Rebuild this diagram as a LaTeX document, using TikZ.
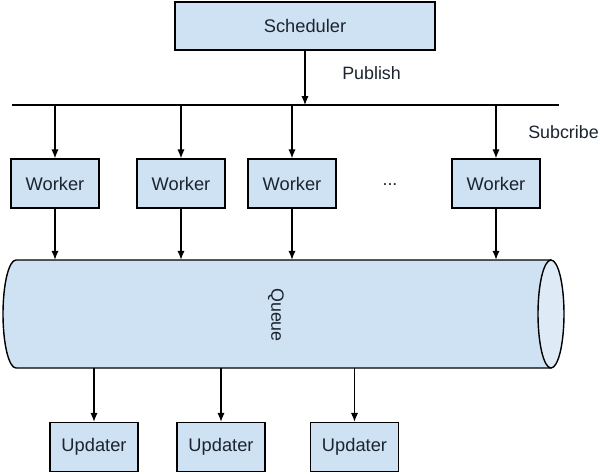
\documentclass[tikz,border=0pt]{standalone}
\usepackage{fontspec}
\setmainfont{Liberation Sans}
\usepackage{xcolor}
\usetikzlibrary{arrows.meta}
\usetikzlibrary{positioning}
\definecolor{boxfill}{HTML}{CFE2F3}
\definecolor{endfill}{HTML}{DEEAF6}
\definecolor{inkc}{HTML}{1C2430}

\begin{document}
\begin{tikzpicture}[
		box/.style={draw=black, line width=1pt, fill=boxfill, text=inkc, minimum width=2.2cm, minimum height=1.225cm, inner sep=0pt, font=\fontsize{13}{15}\selectfont},
		link/.style={line width=0.9pt, -{Latex[length=2.2mm, width=1.8mm]}},
		tag/.style={text=inkc, inner sep=0pt, font=\fontsize{12.7}{15}\selectfont}
	]
				\useasboundingbox[fill=white] (0,0) rectangle (15,11.825);

				\node[box, minimum width=6.5cm, minimum height=1.2cm] (sched) at (7.625,11.175) {Scheduler};

				\coordinate (busL) at (0.3,9.2);
				\coordinate (busR) at (13.975,9.2);
				\draw[line width=0.9pt] (busL) -- (busR);
				\draw[link] (sched.south) -- (sched.south |- busL);
				\node[tag, anchor=west] (pub) at (8.55,10.0) {Publish};
				\node[tag, anchor=west] (sub) at (13.2,8.525) {Subcribe};

				\node[box] (w1) at (1.375,7.2375) {Worker};
				\node[box] (w2) at (4.525,7.2375) {Worker};
				\node[box] (w3) at (7.3,7.2375) {Worker};
				\node[box] (w4) at (12.4,7.2375) {Worker};
				\node[tag] (dots) at (9.75,7.2) {...};

				% queue drawn as a lying cylinder
				\node[minimum width=14.025cm, minimum height=2.7cm, inner sep=0pt] (queue) at (7.0875,3.975) {};
				\fill[boxfill] (13.775,5.325) -- (0.4,5.325) arc[start angle=90, end angle=270, x radius=0.325, y radius=1.35] -- (13.775,2.625) -- cycle;
				\draw[line width=1pt] (13.775,5.325) -- (0.4,5.325) arc[start angle=90, end angle=270, x radius=0.325, y radius=1.35] -- (13.775,2.625);
				\draw[line width=1pt, fill=endfill] (13.775,3.975) ellipse[x radius=0.325, y radius=1.35];
				\node[tag, rotate=-90] (qlabel) at (6.9,3.95) {Queue};

				\foreach \w in {w1,w2,w3,w4} {
					\draw[link] (\w.north |- busL) -- (\w.north);
					\draw[link] (\w.south) -- (\w.south |- queue.north);
				}

				\node[box] (u1) at (2.35,0.65) {Updater};
				\node[box] (u2) at (5.525,0.65) {Updater};
				\node[box] (u3) at (8.8625,0.65) {Updater};

				\foreach \u in {u1,u2,u3}
					\draw[link] (\u.north |- queue.south) -- (\u.north);
\end{tikzpicture}
\end{document}
